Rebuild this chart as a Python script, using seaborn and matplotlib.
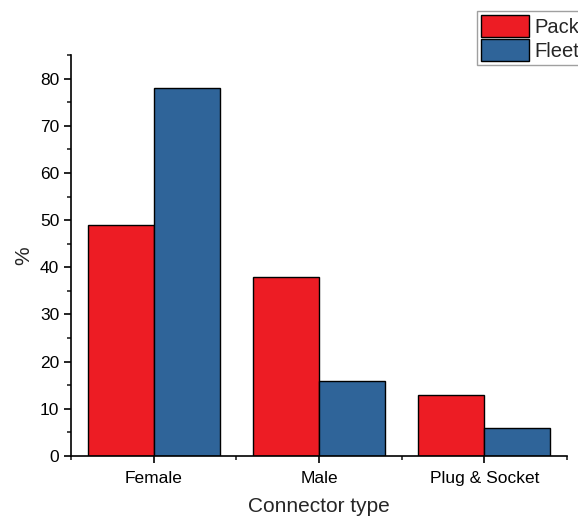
import pandas as pd
import numpy as np
import matplotlib.pyplot as plt
import seaborn as sns
from matplotlib.ticker import MultipleLocator, FixedLocator

sns.set_style('ticks')
plt.rcParams['font.family'] = ['Liberation Sans', 'DejaVu Sans']

connectors = ['Female', 'Male', 'Plug & Socket']
pack = [49, 38, 13]
fleet = [78, 16, 6]

df = pd.DataFrame({
    'Connector type': connectors * 2,
    'value': pack + fleet,
    'group': ['Pack'] * 3 + ['Fleet'] * 3,
})

fig = plt.figure(figsize=(5.78, 5.19), dpi=100)
ax = fig.add_axes([0.123, 0.1214, 0.858, 0.7726])

sns.barplot(data=df, x='Connector type', y='value', hue='group',
            palette=['#ED1C24', '#2F6499'], edgecolor='black', linewidth=1,
            width=0.8, gap=0, saturation=1, ax=ax, legend=True)

ax.set_xlim(-0.5, 2.5)
ax.set_ylim(0, 85)
ax.yaxis.set_major_locator(MultipleLocator(10))
ax.yaxis.set_minor_locator(MultipleLocator(5))
ax.xaxis.set_minor_locator(FixedLocator([-0.5, 0.5, 1.5, 2.5]))
ax.tick_params(which='major', direction='out', length=5, width=1.2, labelsize=12.5, colors='black')
ax.tick_params(axis='x', which='major', pad=6)
ax.tick_params(which='minor', direction='out', length=3, width=1.2)
for s in ['top', 'right']:
    ax.spines[s].set_visible(False)
for s in ['left', 'bottom']:
    ax.spines[s].set_linewidth(1.2)
    ax.spines[s].set_color('black')

ax.set_xlabel('Connector type', fontsize=15, labelpad=8)
ax.set_ylabel('%', fontsize=15, labelpad=5)

handles, labels = ax.get_legend_handles_labels()
ax.get_legend().remove()
fig.legend(handles, labels, loc='upper left', bbox_to_anchor=(477 / 578, 1 - 11 / 519),
           fontsize=14.5, frameon=True, fancybox=False, edgecolor='#888888',
           handlelength=2.4, handleheight=1.3, handletextpad=0.25,
           labelspacing=0.1, borderpad=0.2, borderaxespad=0)

fig.savefig('out.png', dpi=100)
